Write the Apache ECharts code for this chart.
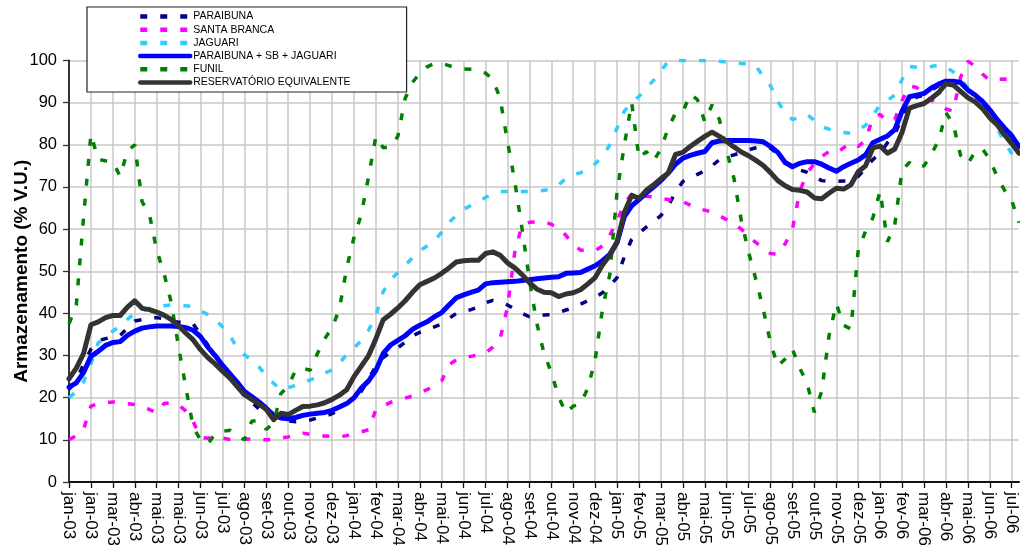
<!DOCTYPE html>
<html>
<head>
<meta charset="utf-8">
<script src="https://cdn.jsdelivr.net/npm/echarts@6/dist/echarts.min.js"></script>
<style>
html,body{margin:0;padding:0;background:#fff;}
#chart{width:1020px;height:545px;}
</style>
</head>
<body>
<div id="chart"></div>
<script>
// Tick labels (one every 30 days, as in the original date axis)
const tickLabels = ['jan-03','jan-03','mar-03','abr-03','mai-03','mai-03','jun-03','jul-03','ago-03','set-03','out-03','nov-03','dez-03',
  'jan-04','fev-04','mar-04','abr-04','mai-04','jun-04','jul-04','ago-04','set-04','out-04','nov-04','dez-04',
  'jan-05','fev-05','mar-05','abr-05','mai-05','jun-05','jul-05','ago-05','set-05','out-05','nov-05','dez-05',
  'jan-06','fev-06','mar-06','abr-06','mai-06','jun-06','jul-06'];
// samples every 10 days (3 samples per tick)
const samplesPerTick = 3;

const paraibuna = [22,24,28,31.5,33.5,34,34.5,34.8,36.5,38.2,38.5,38.9,39,38.7,38.2,37.9,37.8,37.5,35,32.5,
  30.2,27.8,25.5,23.3,21,19,17.3,16.5,15.8,15,14.5,14.3,14.4,14.7,15.2,15.6,16.2,17.2,18.6,19.8,
  21.5,24.5,27.5,29.5,30.8,31.8,33.2,34.7,35.5,36.2,36.8,37.5,38.8,40,40.5,40.9,41.5,42.5,43.1,42.7,
  42,41,40,39.2,39.4,39.6,39.7,40.2,40.8,41.3,42.2,43,43.8,44.9,46.5,48.5,53.5,57.6,59,60.5,
  61.8,63.2,65.5,68.8,71.3,72.2,73,73.8,75,76.5,77.2,77.6,78.2,78.8,79.3,79.7,79.2,77.8,76,74.5,
  74,73.5,72.5,71.5,71.3,71.3,71.4,71.5,72.5,74.5,76.5,78,80.5,82.5,86.5,90.5,91.3,91.8,93,94,
  94.8,95,94.5,93,91.5,90,88,85.8,83.8,82,79.5];

const santaBranca = [10,11,12.5,18,18.6,18.8,19,18.9,18.6,18.4,17.8,17.2,16.4,18.6,18.8,18.3,16.8,14.3,10.6,10.4,
  10.6,10.4,10.1,10,10.1,10.2,10.1,10,10.1,10.4,10.7,11.1,11.6,11.3,11,10.9,10.8,10.7,11,11.5,
  11.9,12.4,17.2,18,18.9,19.4,19.9,20.4,21.2,21.9,22.9,24,27.8,29,29.4,29.8,30.2,30.6,32,34,
  41.5,54.5,61,61.6,61.7,61.8,61.1,60.4,58.5,56.4,55,54.9,54.9,56,58.5,62,66,68.3,68,67.8,
  67.6,67.3,67,66.7,66.5,65.7,64.8,64.5,64,63.2,62.2,61.2,60,58.3,56.8,55.5,54.2,54,56.5,60,
  69,73.3,75.5,77.2,78.4,78,79.3,80.4,79.6,81,86.5,87.2,85.5,86,90.5,94,93.6,91.8,90.6,89.6,
  88.5,88,96,99.8,98.7,96.8,95.3,95.5,95.6,95.5,95.5];

const jaguari = [20,21.5,23.8,28,33,34.5,35.8,37,38.6,40,40.6,41.2,41.6,41.8,42,41.9,41.8,41.6,40.6,39.7,
  38.6,36.8,34.8,31.8,30.2,28.8,27.3,25.2,23.4,21.9,22.4,22.9,23.6,24.2,25,25.8,26.6,28.2,30.2,31.8,
  33.6,36,39.5,45.2,47.9,49.7,51.4,53.2,54.8,56,57.2,59.3,61.6,63.2,64.7,65.6,66.5,67.5,68.3,68.9,
  68.9,68.9,68.9,68.9,68.9,69.2,69.5,70.5,72,72.8,73.4,74,75.5,77.2,80,84,88,90,91.5,93.5,
  95.3,97.5,99.8,100,100,100,100,100,100,99.8,99.6,99.4,99.3,99.2,98.7,96.2,94,90.3,87.4,86,
  86.5,87.2,85.8,84.3,83.7,83.1,82.9,82.7,83.6,84.6,87,89.5,90.5,91.8,95.5,98.6,98.4,98.3,98.6,98.9,
  98.5,97.3,95.5,93.6,91.5,89,86.5,84,80.5,78,75.8];

const somaPSJ = [22.5,23.5,26,29.8,31,32.4,33.1,33.3,34.8,35.8,36.5,36.8,37,37,37,36.9,36.6,36,34.5,32,
  30,27.7,25.7,23.7,21.5,20.3,19,17.5,15.9,15.2,15,15.3,15.8,16.1,16.3,16.5,17,17.8,18.6,20,
  22.3,24,26.5,30.5,32.5,33.6,34.7,36.2,37.2,38,39.2,40.2,42,43.7,44.4,45,45.5,47,47.3,47.4,
  47.5,47.6,47.8,48,48.2,48.4,48.6,48.7,49.5,49.6,49.7,50.5,51.3,52.5,54,56.8,63,65.5,67,68.6,
  70,71.5,73.3,75.4,76.8,77.5,78,78.4,80.5,80.9,81,81,81,81,80.9,80.7,79.6,78.2,75.8,74.8,
  75.6,76,76,75.4,74.5,73.7,74.8,75.6,76.4,77.6,80.5,81.3,82.1,83.6,88,91.4,91.8,92.2,93.5,94.4,
  95.1,95.1,94.8,93,91.8,90.3,88.3,86,84,82.2,79.6];

const funil = [37.5,42,63,82.5,76.5,76.2,76,72.5,78.5,80,66.5,63.5,55,49.5,42.5,32,22.3,13,10,9,
  11.5,12,12.3,11,10,14.4,14.6,12.5,14,21,22.7,26.5,27,26.5,30.5,34,36.6,41,50.8,58,
  63.5,72.5,82,79.3,79.5,82,91,94.8,97,98.5,99.3,99.3,98.8,98.2,98,97.9,97.7,97,95.5,91,
  80.8,71.3,60,48,37.8,30.5,26,20.2,16.4,18,18.5,22.3,29,41,49.2,68.9,80,90,76.8,78.4,
  76.2,79,84,87.5,87.8,92,90.7,85.5,89.5,86,78.5,72,62,54.5,48,41,33,27.5,29.2,31.5,
  27,23.5,16.5,21.5,34.7,42.3,37.2,36.3,55,59.5,62.7,69,57,61,74,75.8,74.6,75,77.8,81,
  87.6,85,77.5,75.5,78.4,79,76.5,72.5,69.3,66.8,61.5];

const reservEquiv = [24.5,27,30.5,37.3,38,39,39.5,39.5,41.5,43,41.2,40.9,40.3,39.6,38.5,37,35.3,33.7,31.4,29.5,
  28,26.3,24.7,22.7,20.7,19.6,18.5,17.2,14.8,16.3,16,17,17.9,18,18.3,18.8,19.6,20.6,21.9,25,
  27.5,30,34,38.5,39.8,41.3,43,45,46.8,47.6,48.4,49.5,50.8,52.2,52.5,52.6,52.6,54.2,54.6,53.8,
  52,50.8,49.2,47.3,45.8,45,44.9,44,44.6,44.9,45.6,47,48.5,51.5,53.8,57,64,68,67.3,69.2,
  70.5,72,73.3,77.7,78.2,79.6,80.8,82,83,82,80.8,79.5,78.3,77.4,76.3,75.1,73.4,71.5,70.3,69.4,
  69.2,68.8,67.4,67.2,68.5,69.7,69.5,70.5,73.6,75,79.3,79.7,78,79,83,88.7,89.3,89.8,91,92.4,
  94.5,94.2,92.7,91.2,90.2,88.6,86.4,84.8,82.4,80.3,78];

const seriesNames = ['PARAIBUNA','SANTA BRANCA','JAGUARI','PARAIBUNA + SB + JAGUARI','FUNIL','RESERVATÓRIO EQUIVALENTE'];

const categories = paraibuna.map((v, i) => 'd' + i);

const dash = [7, 13];
function dashed(name, data, color) {
  return {
    name: name, type: 'line', data: data, symbol: 'none', smooth: false,
    lineStyle: { color: color, width: 3.5, type: dash, cap: 'butt' },
    itemStyle: { color: color }
  };
}
function solid(name, data, color) {
  return {
    name: name, type: 'line', data: data, symbol: 'none', smooth: false,
    lineStyle: { color: color, width: 5, type: 'solid', cap: 'round', join: 'round' },
    itemStyle: { color: color }
  };
}

const chart = echarts.init(document.getElementById('chart'), null, { renderer: 'canvas' });
chart.setOption({
  animation: false,
  backgroundColor: '#ffffff',
  textStyle: { fontFamily: 'Liberation Sans, Arial, sans-serif' },
  grid: { left: 69, right: 1, top: 60.5, bottom: 63, containLabel: false, outerBoundsMode: 'none' },
  legend: {
    orient: 'vertical',
    left: 87, top: 7,
    padding: [4, 56, 4, 51],
    itemWidth: 50, itemHeight: 12, itemGap: 2.2,
    backgroundColor: '#ffffff',
    borderColor: '#222222', borderWidth: 1.2,
    itemStyle: { opacity: 0, borderWidth: 0 },
    lineStyle: { width: 4.5 },
    textStyle: { fontSize: 10.5, color: '#000', fontFamily: 'Liberation Sans, Arial, sans-serif', padding: [0,0,0,-2] },
    data: seriesNames,
    z: 10
  },
  xAxis: {
    type: 'category',
    data: categories,
    boundaryGap: false,
    axisLine: { show: true, lineStyle: { color: '#111', width: 2 } },
    axisTick: { show: true, interval: samplesPerTick - 1, length: 6, lineStyle: { color: '#111', width: 1.3 } },
    axisLabel: {
      interval: samplesPerTick - 1,
      rotate: -90,
      margin: 10,
      fontSize: 17,
      color: '#000',
      fontFamily: 'Liberation Sans, Arial, sans-serif',
      formatter: function (value, index) {
        return index % samplesPerTick === 0 ? (tickLabels[index / samplesPerTick] || '') : '';
      }
    },
    splitLine: { show: true, interval: samplesPerTick - 1, lineStyle: { color: '#c8c8c8', width: 1.5 } }
  },
  yAxis: {
    type: 'value',
    min: 0, max: 100, interval: 10,
    name: 'Armazenamento (% V.U.)',
    nameLocation: 'middle',
    nameGap: 38,
    nameRotate: 90,
    nameMoveOverlap: false,
    nameTextStyle: { fontSize: 19, fontWeight: 'bold', color: '#000', fontFamily: 'Liberation Sans, Arial, sans-serif' },
    axisLine: { show: true, lineStyle: { color: '#333', width: 2 } },
    axisTick: { show: true, length: 6, lineStyle: { color: '#333', width: 1.3 } },
    axisLabel: { fontSize: 16.5, color: '#000', margin: 12, fontFamily: 'Liberation Sans, Arial, sans-serif' },
    splitLine: { show: true, lineStyle: { color: '#c8c8c8', width: 1.5 } }
  },
  series: [
    dashed(seriesNames[0], paraibuna, '#000080'),
    dashed(seriesNames[1], santaBranca, '#ff00ff'),
    dashed(seriesNames[2], jaguari, '#33ccff'),
    solid(seriesNames[3], somaPSJ, '#0000ff'),
    dashed(seriesNames[4], funil, '#008000'),
    solid(seriesNames[5], reservEquiv, '#333333')
  ]
});
</script>
</body>
</html>
